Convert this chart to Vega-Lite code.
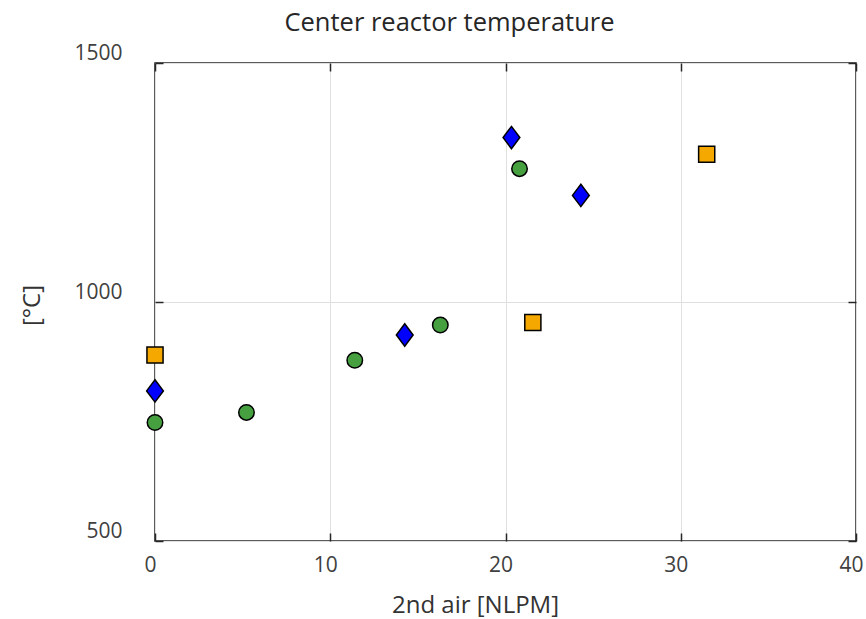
{
  "$schema": "https://vega.github.io/schema/vega-lite/v6.json",
  "autosize": {"type": "none"},
  "width": 701,
  "height": 478,
  "padding": {"left": 155, "top": 63, "right": 10, "bottom": 78},
  "background": "white",
  "title": {
    "text": "Center reactor temperature",
    "font": "Open Sans",
    "fontSize": 25.5,
    "fontWeight": "normal",
    "color": "#262626",
    "baseline": "alphabetic",
    "offset": -14,
    "dx": -56
  },
  "config": {
    "view": {"stroke": "#262626", "strokeWidth": 1.5},
    "axis": {
      "labelFont": "Open Sans",
      "titleFont": "Open Sans",
      "labelColor": "#404040",
      "titleColor": "#333333",
      "labelFontSize": 21,
      "titleFontSize": 24,
      "titleFontWeight": "normal",
      "domain": false,
      "tickColor": "#262626",
      "tickWidth": 1.5,
      "tickSize": -8,
      "gridColor": "#e0e0e0",
      "gridWidth": 1,
      "gridOpacity": 1,
      "labelFlush": false,
      "labelOverlap": false,
      "format": "d"
    }
  },
  "data": {
    "values": [
      {"air": 0, "temp": 748, "series": "A"},
      {"air": 5.22, "temp": 769, "series": "A"},
      {"air": 11.4, "temp": 878, "series": "A"},
      {"air": 16.28, "temp": 952, "series": "A"},
      {"air": 20.8, "temp": 1279, "series": "A"},
      {"air": 0, "temp": 814, "series": "B"},
      {"air": 14.25, "temp": 931, "series": "B"},
      {"air": 20.34, "temp": 1344, "series": "B"},
      {"air": 24.3, "temp": 1223, "series": "B"},
      {"air": 0, "temp": 889, "series": "C"},
      {"air": 21.56, "temp": 957, "series": "C"},
      {"air": 31.48, "temp": 1309, "series": "C"}
    ]
  },
  "layer": [
    {
      "mark": {"type": "point", "opacity": 0},
      "encoding": {
        "x": {"field": "air", "type": "quantitative", "scale": {"domain": [0, 40], "nice": false},
              "axis": {"orient": "top", "values": [0, 10, 20, 30, 40], "labels": false, "grid": false, "title": null}},
        "y": {"field": "temp", "type": "quantitative", "scale": {"domain": [500, 1500], "nice": false, "zero": false},
              "axis": {"orient": "right", "values": [500, 1000, 1500], "labels": false, "grid": false, "title": null}}
      }
    },
    {
      "mark": {"type": "point", "filled": true, "stroke": "black", "strokeWidth": 1.5, "opacity": 1},
      "encoding": {
        "x": {"field": "air", "type": "quantitative", "scale": {"domain": [0, 40], "nice": false},
              "axis": {"orient": "bottom", "values": [0, 10, 20, 30, 40], "title": "2nd air [NLPM]", "grid": true,
                       "labelPadding": 21, "labelOffset": -5, "titleX": 320, "titleY": 71, "titleBaseline": "alphabetic"}},
        "y": {"field": "temp", "type": "quantitative", "scale": {"domain": [500, 1500], "nice": false, "zero": false},
              "axis": {"orient": "left", "values": [500, 1000, 1500], "title": "[°C]", "grid": true,
                       "labelPadding": 41, "labelOffset": -10, "titleX": -123, "titleY": 242, "titleBaseline": "middle"}},
        "shape": {"field": "series", "type": "nominal", "legend": null,
                  "scale": {"type": "ordinal", "domain": ["A", "B", "C"], "range": ["circle", "M0,-1L0.75,0L0,1L-0.75,0Z", "square"]}},
        "size": {"field": "series", "type": "nominal", "legend": null,
                 "scale": {"type": "ordinal", "domain": ["A", "B", "C"], "range": [240, 500, 260]}},
        "fill": {"field": "series", "type": "nominal", "legend": null,
                 "scale": {"domain": ["A", "B", "C"], "range": ["#46a040", "#0000ff", "#f5a800"]}}
      }
    }
  ],
  "resolve": {"axis": {"x": "independent", "y": "independent"}}
}
